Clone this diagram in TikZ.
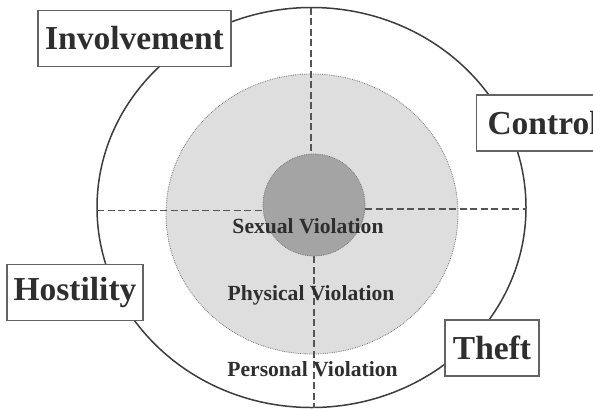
\documentclass[tikz,border=0pt]{standalone}
\usepackage{fontspec}
\setmainfont{Liberation Serif}
\definecolor{txt}{HTML}{2E2E2E}
\definecolor{lightfill}{HTML}{DEDEDE}
\definecolor{darkfill}{HTML}{A4A4A4}
\definecolor{edge}{HTML}{3C3C3C}
\definecolor{dashc}{HTML}{555555}
\begin{document}
\begin{tikzpicture}[x=1pt,y=-1pt,
  labelbox/.style={draw=edge!80, line width=1.1pt, fill=white, text=txt,
    font=\fontsize{33.5}{37}\selectfont\bfseries, inner sep=0pt, minimum height=56pt},
  ringlabel/.style={text=txt, font=\fontsize{21.6}{24}\selectfont\bfseries, anchor=base, inner sep=0pt},
  divider/.style={dashc, line width=1.1pt, dash pattern=on 7pt off 3.5pt}]
\useasboundingbox (0,0) rectangle (593,408);
\clip (0,0) rectangle (593,408);
% outer ring
\draw[edge, line width=1.5pt] (311.5,207.5) ellipse [x radius=214.5, y radius=200];
% middle ring
\draw[edge!70, fill=lightfill, line width=0.8pt, densely dotted] (312,214) ellipse [x radius=146, y radius=140];
% dividers
\coordinate (vt0) at (311,7.5);
\coordinate (vt1) at (311,154);
\coordinate (vb0) at (314,256);
\coordinate (vb1) at (314,408);
\coordinate (hl0) at (97,210.5);
\coordinate (hl1) at (263,210.5);
\coordinate (hr0) at (365,209);
\coordinate (hr1) at (526,209);
\draw[divider] (vt0) -- (vt1);
\draw[divider] (vb0) -- (vb1);
\draw[divider] (hl0) -- (hl1);
\draw[divider] (hr0) -- (hr1);
% inner circle
\draw[edge!70, fill=darkfill, line width=0.8pt, densely dotted] (314,205) circle [radius=51];
% ring labels
\node[ringlabel] (sex) at (308,233) {Sexual Violation};
\node[ringlabel] (phy) at (311,300) {Physical Violation};
\node[ringlabel] (per) at (312.5,376) {Personal Violation};
% boxes
\node[labelbox, minimum width=193pt] (inv) at (134.5,38.5) {Involvement};
\node[labelbox, anchor=west, text width=118pt, inner xsep=11pt, align=left] (con) at (476,123) {Control};
\node[labelbox, minimum width=136pt] (hos) at (75,292.5) {Hostility};
\node[labelbox, minimum width=94pt] (the) at (492,348) {Theft};
\end{tikzpicture}
\end{document}
